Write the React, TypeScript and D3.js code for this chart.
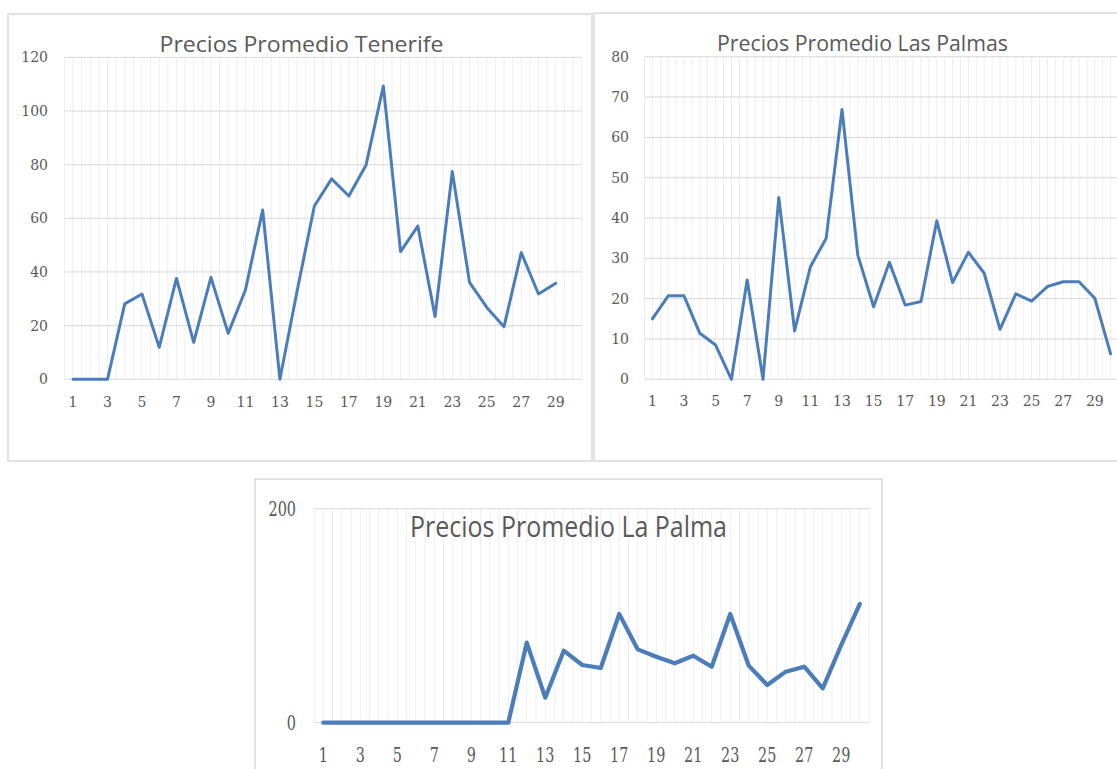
import React from "react";
import * as d3 from "d3";

const days: number[] = d3.range(1, 31);
const xTickLabels: number[] = [1, 3, 5, 7, 9, 11, 13, 15, 17, 19, 21, 23, 25, 27, 29];

const tenerife: number[] = [0, 0, 0, 28.1, 31.8, 11.9, 37.6, 13.8, 38.0, 17.1, 33.3, 63.1, 0, 33, 64.6, 74.7, 68.3, 79.9, 109.3, 47.6, 57.1, 23.4, 77.4, 36.1, 26.8, 19.6, 47.2, 31.8, 35.8];
const lasPalmas: number[] = [15.0, 20.7, 20.7, 11.4, 8.5, 0, 24.6, 0, 45.1, 12.0, 27.9, 35.0, 66.9, 30.8, 18.0, 29.0, 18.4, 19.3, 39.3, 24.0, 31.5, 26.3, 12.4, 21.2, 19.4, 23.0, 24.2, 24.2, 20.1, 6.3];
const laPalma: number[] = [0, 0, 0, 0, 0, 0, 0, 0, 0, 0, 0, 74.8, 23.4, 67.3, 53.9, 51.1, 101.6, 68.5, 61.7, 55.5, 62.6, 52.3, 101.6, 53.3, 35.2, 47.7, 52.3, 32.1, 72.6, 110.9];

const tenerifeTicks = [0, 20, 40, 60, 80, 100, 120];
const lasPalmasTicks = [0, 10, 20, 30, 40, 50, 60, 70, 80];
const laPalmaTicks = [0, 200];

const LINE = "#4a7dba";
const TXT = "#595959";

type ChartProps = {
  title: string;
  values: number[];
  yTicks: number[];
  x0: number; x1: number; yTop: number; yBot: number;
  titleX: number; titleY: number; titleW: number; titleSize: number;
  labelRight: number; xLabelY: number;
  strokeW: number;
  condensed?: boolean;
  labelSize: number;
};

function Chart(p: ChartProps) {
  const x = d3.scaleBand<number>().domain(days).range([p.x0, p.x1]).padding(0);
  const y = d3.scaleLinear().domain([0, p.yTicks[p.yTicks.length - 1]]).range([p.yBot, p.yTop]);
  const bw = x.bandwidth();
  const cx = (d: number) => (x(d) as number) + bw / 2;
  const line = d3.line<number>().x((_, i) => cx(days[i])).y((v) => y(v));
  const vlines: number[] = [];
  days.forEach((d) => { vlines.push(x(d) as number); vlines.push(cx(d)); });
  vlines.push(p.x1);
  const sx = p.condensed ? 0.72 : 1;
  return (
    <g>
      {vlines.map((vx, i) => (
        <line key={"v" + i} x1={vx} x2={vx} y1={p.yTop} y2={p.yBot} stroke="#eeeeee" strokeWidth={1} />
      ))}
      {p.yTicks.map((t) => (
        <line key={"h" + t} x1={p.x0} x2={p.x1} y1={y(t)} y2={y(t)} stroke="#d9d9d9" strokeWidth={1} />
      ))}
      {p.yTicks.map((t) => (
        <text key={"yl" + t} transform={`translate(${p.labelRight},${y(t)}) scale(${sx},1)`} textAnchor="end" dominantBaseline="central"
          fontFamily="DejaVu Serif" fontSize={p.labelSize} fill={TXT}>{t}</text>
      ))}
      {xTickLabels.map((d) => (
        <text key={"xl" + d} transform={`translate(${cx(d)},${p.xLabelY}) scale(${sx},1)`} textAnchor="middle" dominantBaseline="central"
          fontFamily="DejaVu Serif" fontSize={p.labelSize} fill={TXT}>{d}</text>
      ))}
      <text x={p.titleX} y={p.titleY} textAnchor="middle" fontFamily="Open Sans" fontSize={p.titleSize} fill={TXT}
        textLength={p.titleW} lengthAdjust="spacingAndGlyphs">{p.title}</text>
      <path d={line(p.values) || ""} fill="none" stroke={LINE} strokeWidth={p.strokeW} strokeLinejoin="round" strokeLinecap="round" />
    </g>
  );
}

export default function App() {
  return (
    <svg width={1117} height={769} style={{ position: "absolute", left: 0, top: 0, background: "#fff" }}>
      <rect x={0} y={0} width={1117} height={769} fill="#fff" />
      <rect x={8} y={14} width={584} height={447} fill="#fff" stroke="#d9d9d9" strokeWidth={1.5} />
      <rect x={594} y={13} width={540} height={448} fill="#fff" stroke="#d9d9d9" strokeWidth={1.5} />
      <rect x={255} y={479} width={627} height={310} fill="#fff" stroke="#d9d9d9" strokeWidth={1.5} />
      <Chart title="Precios Promedio Tenerife" values={tenerife} yTicks={tenerifeTicks}
        x0={64.4} x1={581.6} yTop={57.3} yBot={379.3}
        titleX={301.5} titleY={51.5} titleW={284} titleSize={22}
        labelRight={48} xLabelY={402} strokeW={3} labelSize={14} />
      <Chart title="Precios Promedio Las Palmas" values={lasPalmas} yTicks={lasPalmasTicks}
        x0={644.5} x1={1118.5} yTop={56.7} yBot={379.3}
        titleX={862.5} titleY={50.5} titleW={291} titleSize={22}
        labelRight={629} xLabelY={400.5} strokeW={3} labelSize={14} />
      <Chart title="Precios Promedio La Palma" values={laPalma} yTicks={laPalmaTicks}
        x0={314} x1={869} yTop={508.7} yBot={722.7}
        titleX={568.5} titleY={536.5} titleW={317} titleSize={30}
        labelRight={296} xLabelY={755} strokeW={4.2} labelSize={20} condensed />
    </svg>
  );
}
